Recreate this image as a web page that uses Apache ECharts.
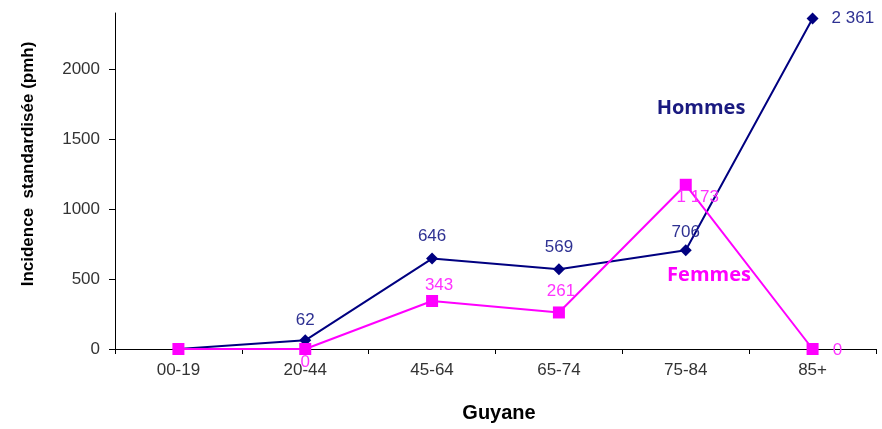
<!DOCTYPE html>
<html><head><meta charset="utf-8">
<script src="https://cdn.jsdelivr.net/npm/echarts@6/dist/echarts.min.js"></script>
<style>html,body{margin:0;padding:0;background:#fff}#c{width:882px;height:429px}</style>
</head><body><div id="c"></div>
<script>
const categories = ['00-19','20-44','45-64','65-74','75-84','85+'];
const hommes = [0, 62, 646, 569, 706, 2361];
const femmes = [0, 0, 343, 261, 1173, 0];
const yTicks = [0, 500, 1000, 1500, 2000];

const fmt = v => String(v).replace(/\B(?=(\d{3})+(?!\d))/g, ' ');

const hommesLabels = [
  {show:false},
  {show:true, position:'top', distance:6},
  {show:true, position:'top', distance:8},
  {show:true, position:'top', distance:8},
  {show:true, position:'top', distance:3},
  {show:true, position:'right', distance:13}
];
const femmesLabels = [
  {show:false},
  {show:true, position:'inside', offset:[0,13]},
  {show:true, position:'inside', offset:[7,-16]},
  {show:true, position:'inside', offset:[2,-21]},
  {show:true, position:'inside', offset:[12,13]},
  {show:true, position:'inside', offset:[25,1]}
];

const chart = echarts.init(document.getElementById('c'), null, {renderer:'canvas'});
chart.setOption({
  animation:false,
  textStyle:{fontFamily:'Liberation Sans, Arial, sans-serif'},
  grid:{left:115, right:6, top:13, bottom:80},
  xAxis:{
    type:'category', data:categories, boundaryGap:true,
    axisLine:{lineStyle:{color:'#000', width:1}},
    axisTick:{show:true, length:5, lineStyle:{color:'#000'}},
    axisLabel:{color:'#333', fontSize:17, margin:13}
  },
  yAxis:{
    type:'value', min:0, max:2400, interval:500,
    splitLine:{show:false},
    axisLine:{show:true, lineStyle:{color:'#000', width:1}},
    axisTick:{show:true, length:6, lineStyle:{color:'#000'}, customValues:yTicks},
    axisLabel:{color:'#333', fontSize:17, margin:15, customValues:yTicks, formatter:v=>String(v)}
  },
  graphic:[
    {type:'text', x:28, y:164, rotation:Math.PI/2,
     style:{text:'Incidence  standardisée (pmh)', font:'bold 17px "Liberation Sans", Arial, sans-serif', fill:'#000', align:'center', verticalAlign:'middle'}},
    {type:'text', x:499, y:413,
     style:{text:'Guyane', font:'bold 20px "Liberation Sans", Arial, sans-serif', fill:'#000', align:'center', verticalAlign:'middle'}},
    {type:'text', x:701, y:108,
     style:{text:'Hommes', font:'bold 20px "Open Sans", sans-serif', fill:'#1a1a80', align:'center', verticalAlign:'middle'}},
    {type:'text', x:709, y:275,
     style:{text:'Femmes', font:'bold 20px "Open Sans", sans-serif', fill:'#ff00ff', align:'center', verticalAlign:'middle'}}
  ],
  series:[
    {
      name:'Hommes', type:'line',
      data:hommes.map((v,i)=>({value:v, label:hommesLabels[i]})),
      symbol:'diamond', symbolSize:12, showAllSymbol:true,
      lineStyle:{color:'#000080', width:2},
      itemStyle:{color:'#000080'},
      label:{formatter:p=>fmt(p.value), color:'#2e3192', fontSize:17},
      z:2
    },
    {
      name:'Femmes', type:'line',
      data:femmes.map((v,i)=>({value:v, label:femmesLabels[i]})),
      symbol:'rect', symbolSize:12, showAllSymbol:true,
      lineStyle:{color:'#ff00ff', width:2},
      itemStyle:{color:'#ff00ff'},
      label:{formatter:p=>fmt(p.value), color:'#ff33ff', fontSize:17},
      z:3
    }
  ]
});
</script></body></html>
